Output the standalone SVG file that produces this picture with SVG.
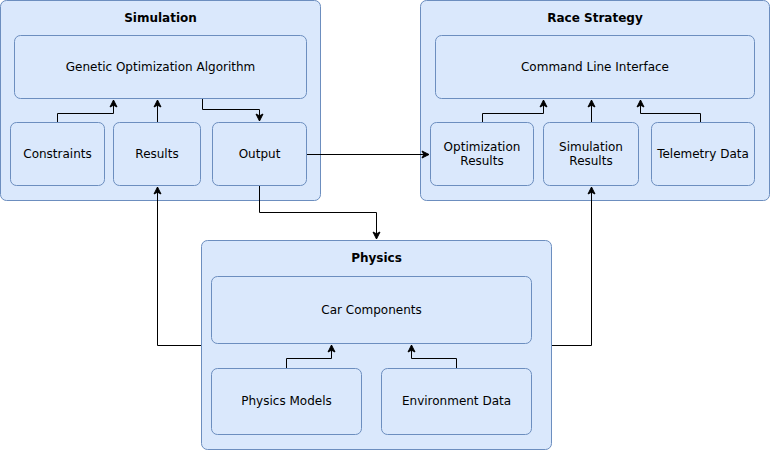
<svg xmlns="http://www.w3.org/2000/svg" width="771" height="451" viewBox="0 0 771 451">
<style>
.c{fill:#dae8fc;stroke:#6c8ebf;stroke-width:1}
.t{font-family:"DejaVu Sans",Verdana,sans-serif;font-size:12px;fill:#000;text-anchor:middle;dominant-baseline:central}
.b{font-weight:bold}
.e{fill:none;stroke:#000;stroke-width:1}
</style>
<defs>
<marker id="a" markerWidth="10" markerHeight="10" refX="8" refY="5" orient="auto" markerUnits="userSpaceOnUse">
<path d="M1,1.5 L8,5 L1,8.5 L2.8,5 Z" fill="#000" stroke="#000" stroke-width="1"/>
</marker>
</defs>
<rect width="771" height="451" fill="#fff"/>
<g id="simulation">
<rect class="c" x="0.5" y="0.5" width="320" height="200" rx="6"/>
<text class="t b" x="160.5" y="18">Simulation</text>
</g>
<g id="genetic"><rect class="c" x="14.5" y="35.5" width="292" height="63" rx="6"/><text class="t" x="160.5" y="67">Genetic Optimization Algorithm</text></g>
<g id="constraints"><rect class="c" x="10.5" y="122.5" width="94" height="63" rx="6"/><text class="t" x="57.5" y="154">Constraints</text></g>
<g id="results"><rect class="c" x="113.5" y="122.5" width="87" height="63" rx="6"/><text class="t" x="157" y="154">Results</text></g>
<g id="output"><rect class="c" x="212.5" y="122.5" width="94" height="63" rx="6"/><text class="t" x="259.5" y="154">Output</text></g>

<g id="race-strategy">
<rect class="c" x="420.5" y="0.5" width="349" height="200" rx="6"/>
<text class="t b" x="595" y="18">Race Strategy</text>
</g>
<g id="cli"><rect class="c" x="435.5" y="35.5" width="319" height="63" rx="6"/><text class="t" x="595" y="67">Command Line Interface</text></g>
<g id="opt-results"><rect class="c" x="430.5" y="122.5" width="103" height="63" rx="6"/><text class="t" x="482" y="147">Optimization</text><text class="t" x="482" y="161">Results</text></g>
<g id="sim-results"><rect class="c" x="543.5" y="122.5" width="95" height="63" rx="6"/><text class="t" x="591" y="147">Simulation</text><text class="t" x="591" y="161">Results</text></g>
<g id="telemetry"><rect class="c" x="651.5" y="122.5" width="103" height="63" rx="6"/><text class="t" x="703" y="154">Telemetry Data</text></g>

<g id="physics">
<rect class="c" x="201.5" y="240.5" width="350" height="209" rx="6"/>
<text class="t b" x="376.5" y="258">Physics</text>
</g>
<g id="car"><rect class="c" x="211.5" y="276.5" width="320" height="67" rx="6"/><text class="t" x="371.5" y="310">Car Components</text></g>
<g id="physics-models"><rect class="c" x="211.5" y="368.5" width="150" height="66" rx="6"/><text class="t" x="286.5" y="401">Physics Models</text></g>
<g id="environment"><rect class="c" x="381.5" y="368.5" width="150" height="66" rx="6"/><text class="t" x="456.5" y="401">Environment Data</text></g>

<g id="connectors">
<path class="e" d="M57.5,122 V113.5 H113.5 V100" marker-end="url(#a)"/>
<path class="e" d="M157.5,122 V100" marker-end="url(#a)"/>
<path class="e" d="M202.5,99 V109.5 H259.5 V121" marker-end="url(#a)"/>
<path class="e" d="M307,154.5 H429" marker-end="url(#a)"/>
<path class="e" d="M259.5,186 V212.5 H376.5 V239" marker-end="url(#a)"/>
<path class="e" d="M201,345.5 H157.5 V187" marker-end="url(#a)"/>
<path class="e" d="M552,345.5 H591.5 V187" marker-end="url(#a)"/>
<path class="e" d="M482.5,122 V113.5 H543.5 V100" marker-end="url(#a)"/>
<path class="e" d="M591.5,122 V100" marker-end="url(#a)"/>
<path class="e" d="M700.5,122 V113.5 H640.5 V100" marker-end="url(#a)"/>
<path class="e" d="M286.5,368 V358.5 H331.5 V345" marker-end="url(#a)"/>
<path class="e" d="M456.5,368 V358.5 H411.5 V345" marker-end="url(#a)"/>
</g>
</svg>
